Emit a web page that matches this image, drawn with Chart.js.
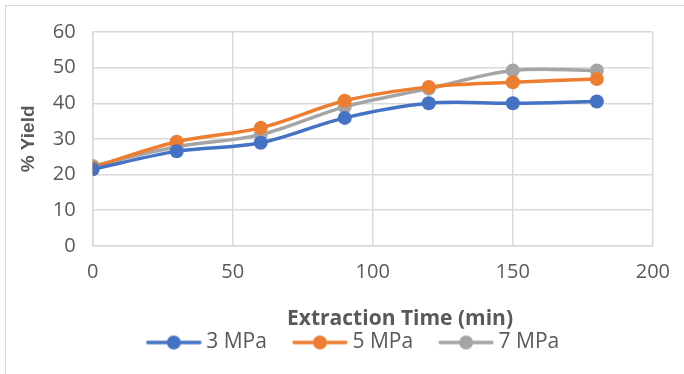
<!DOCTYPE html>
<html>
<head>
<meta charset="utf-8">
<script src="https://cdn.jsdelivr.net/npm/chart.js@4"></script>
<style>
  html, body { margin: 0; padding: 0; background: #fff; }
  #frame { position: absolute; left: 5px; top: 5px; width: 700px; height: 400px; border: 1px solid #d9d9d9; }
  #wrap { position: absolute; left: 0; top: 0; width: 684px; height: 374px; }
</style>
</head>
<body>
<div id="frame"></div>
<div id="wrap"><canvas id="yield-chart"></canvas></div>
<script>
const times = [0, 30, 60, 90, 120, 150, 180]
const yield3 = [21.5, 26.5, 28.9, 35.9, 40.0, 40.0, 40.5]
const yield5 = [22.0, 29.2, 33.1, 40.7, 44.6, 45.9, 46.8]
const yield7 = [22.4, 27.8, 31.2, 39.0, 44.1, 49.2, 49.2]
const seriesNames = ['3 MPa', '5 MPa', '7 MPa']
const seriesColors = ['#4472C4', '#ED7D31', '#A5A5A5']

const FONT = 'Open Sans'
const TEXT = '#595959'
const GRID = '#d9d9d9'

// excel style legend marker: line with a dot in the middle
function legendMarker(color) {
  const c = document.createElement('canvas')
  c.width = 56
  c.height = 18
  const g = c.getContext('2d')
  g.strokeStyle = color
  g.lineWidth = 3.5
  g.lineCap = 'round'
  g.beginPath()
  g.moveTo(2, 9)
  g.lineTo(54, 9)
  g.stroke()
  g.fillStyle = color
  g.beginPath()
  g.arc(28, 9, 7, 0, Math.PI * 2)
  g.fill()
  return c
}

// the legend sits a little right of centre in the original
const legendShift = {
  id: 'legendShift',
  afterLayout(chart) {
    chart.legend.left += 20
    chart.legend.right += 20
  }
}

const allSeries = [yield3, yield5, yield7]

new Chart(document.getElementById('yield-chart'), {
  type: 'line',
  data: {
    datasets: allSeries.map((vals, i) => ({
      label: seriesNames[i],
      data: times.map((t, j) => ({ x: t, y: vals[j] })),
      borderColor: seriesColors[i],
      backgroundColor: seriesColors[i],
      borderWidth: 3.5,
      tension: 0.35,
      pointRadius: 7,
      pointHoverRadius: 7,
      pointBorderWidth: 0,
      pointStyle: 'circle',
    }))
  },
  plugins: [legendShift],
  options: {
    responsive: true,
    maintainAspectRatio: false,
    animation: false,
    layout: { padding: { left: 13, right: 26, top: 32, bottom: 11 } },
    plugins: {
      legend: {
        position: 'bottom',
        labels: {
          usePointStyle: true,
          pointStyleWidth: 44,
          padding: 31,
          color: TEXT,
          font: { family: FONT, size: 21 },
          generateLabels: (chart) => chart.data.datasets.map((ds, i) => ({
            text: ds.label,
            fillStyle: ds.borderColor,
            strokeStyle: ds.borderColor,
            fontColor: TEXT,
            pointStyle: legendMarker(ds.borderColor),
            lineWidth: 0,
            datasetIndex: i,
            hidden: false,
          }))
        }
      },
      tooltip: { enabled: false }
    },
    scales: {
      x: {
        type: 'linear',
        min: 0,
        max: 200,
        ticks: { stepSize: 50, color: TEXT, padding: 14, font: { family: FONT, size: 20 } },
        grid: { color: GRID, lineWidth: 1.5, drawTicks: false },
        border: { color: GRID, width: 1.5 },
        title: {
          display: true,
          text: '\u00a0\u00a0\u00a0\u00a0\u00a0\u00a0\u00a0\u00a0\u00a0\u00a0Extraction Time (min)',
          color: TEXT,
          font: { family: FONT, size: 21, weight: 'bold' },
          padding: { top: 9, bottom: -31 }
        }
      },
      y: {
        min: 0,
        max: 60,
        ticks: { stepSize: 10, color: TEXT, padding: 17, font: { family: FONT, size: 20 } },
        grid: { color: GRID, lineWidth: 1.5, drawTicks: false },
        border: { color: GRID, width: 1.5 },
        title: {
          display: true,
          text: '% Yield',
          color: TEXT,
          font: { family: 'Liberation Sans', size: 19, weight: 'bold' },
          padding: { top: 4, bottom: -4 }
        }
      }
    }
  }
})
</script>
</body>
</html>
